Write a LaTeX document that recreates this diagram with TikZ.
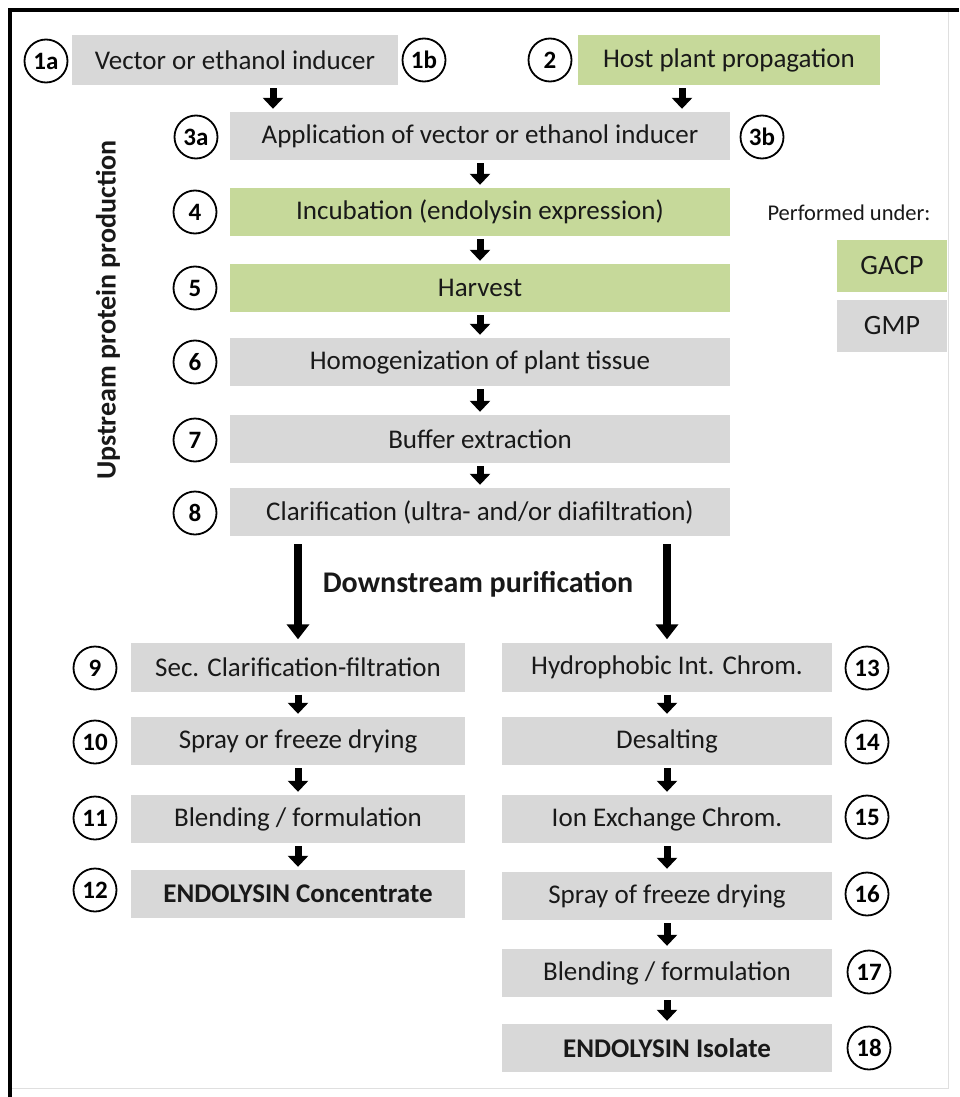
\documentclass[tikz,border=0pt]{standalone}
\usepackage{fontspec}
\setmainfont{Carlito}
\usetikzlibrary{arrows.meta}
\definecolor{gacp}{RGB}{198,217,154}
\definecolor{gmp}{RGB}{216,216,216}
\definecolor{txt}{RGB}{25,25,25}
\begin{document}
\begin{tikzpicture}[x=1pt,y=-1pt,
  box/.style={inner sep=0pt,anchor=center,font=\fontsize{27}{30}\selectfont,text=txt},
  gbox/.style={box,fill=gmp},
  vbox/.style={box,fill=gacp},
  num/.style={circle,draw=black,line width=1.8pt,minimum size=43pt,inner sep=0pt,font=\bfseries\fontsize{25}{27}\selectfont},
  arr/.style={line width=7pt,-{Triangle[width=20pt,length=11pt]},shorten <=3pt,shorten >=3pt},
  bigarr/.style={line width=8pt,-{Triangle[width=22pt,length=15pt]}}]
\useasboundingbox (0,0) rectangle (959,1097);
\fill[white] (0,0) rectangle (959,1097);
% frame
\draw[gray!25,line width=1pt] (948,12) -- (948,1088) -- (10,1088);
\draw[black,line width=4pt] (10,1097) -- (10,10) -- (959,10);

% upstream boxes
\node[gbox,minimum width=326pt,minimum height=50pt] (b1) at (235,60) {Vector or ethanol inducer};
\node[vbox,minimum width=302pt,minimum height=50pt] (b2) at (729,60) {Host plant propagation};
\node[gbox,minimum width=500pt,minimum height=48pt] (b3) at (480,136) {Application of vector or ethanol inducer};
\node[vbox,minimum width=500pt,minimum height=48pt] (b4) at (480,212) {Incubation (endolysin expression)};
\node[vbox,minimum width=500pt,minimum height=48pt] (b5) at (480,288) {Harvest};
\node[gbox,minimum width=500pt,minimum height=48pt] (b6) at (480,362) {Homogenization of plant tissue};
\node[gbox,minimum width=500pt,minimum height=48pt] (b7) at (480,439) {Buffer extraction};
\node[gbox,minimum width=500pt,minimum height=48pt] (b8) at (480,512) {Clarification (ultra- and/or diafiltration)};

% numbers upstream
\node[num] (n1a) at (46,61) {1a};
\node[num] (n1b) at (424,60) {1b};
\node[num] (n2) at (550,60) {2};
\node[num] (n3a) at (196,137) {3a};
\node[num] (n3b) at (762,137) {3b};
\node[num] (n4) at (195,212) {4};
\node[num] (n5) at (195,288) {5};
\node[num] (n6) at (195,362) {6};
\node[num] (n7) at (195,440) {7};
\node[num] (n8) at (195,513) {8};

% side label
\node[rotate=90,font=\bfseries\fontsize{28}{30}\selectfont,text=txt] (up) at (108,310) {Upstream protein production};

% legend
\node[font=\fontsize{22.5}{25}\selectfont,text=txt] (perf) at (849,213) {Performed under:};
\node[vbox,minimum width=110pt,minimum height=52pt,font=\fontsize{28}{30}\selectfont] (lg1) at (892,266) {GACP};
\node[gbox,minimum width=110pt,minimum height=52pt,font=\fontsize{28}{30}\selectfont] (lg2) at (892,326) {GMP};

% downstream
\node[font=\bfseries\fontsize{30}{32}\selectfont,text=txt] (down) at (478,584) {Downstream purification};

\node[gbox,minimum width=334pt,minimum height=49pt] (b9) at (298,667) {Sec. Clarification-filtration};
\node[gbox,minimum width=334pt,minimum height=48pt] (b10) at (298,741) {Spray or freeze drying};
\node[gbox,minimum width=334pt,minimum height=48pt] (b11) at (298,819) {Blending / formulation};
\node[gbox,minimum width=334pt,minimum height=48pt,font=\bfseries\fontsize{27}{30}\selectfont] (b12) at (298,894) {ENDOLYSIN Concentrate};

\node[gbox,minimum width=330pt,minimum height=49pt] (b13) at (667,667) {Hydrophobic Int. Chrom.};
\node[gbox,minimum width=330pt,minimum height=48pt] (b14) at (667,741) {Desalting};
\node[gbox,minimum width=330pt,minimum height=48pt] (b15) at (667,819) {Ion Exchange Chrom.};
\node[gbox,minimum width=330pt,minimum height=48pt] (b16) at (667,896) {Spray of freeze drying};
\node[gbox,minimum width=330pt,minimum height=48pt] (b17) at (667,973) {Blending / formulation};
\node[gbox,minimum width=330pt,minimum height=48pt,font=\bfseries\fontsize{27}{30}\selectfont] (b18) at (667,1048) {ENDOLYSIN Isolate};

\node[num] (n9) at (95,668) {9};
\node[num] (n10) at (95,742) {10};
\node[num] (n11) at (95,818) {11};
\node[num] (n12) at (95,890) {12};
\node[num] (n13) at (867,668) {13};
\node[num] (n14) at (867,742) {14};
\node[num] (n15) at (867,817) {15};
\node[num] (n16) at (867,894) {16};
\node[num] (n17) at (869,972) {17};
\node[num] (n18) at (869,1048) {18};

% arrows
\coordinate (xa) at (273,0);
\coordinate (xb) at (682,0);
\draw[arr] (b1.south -| xa) -- (b3.north -| xa);
\draw[arr] (b2.south -| xb) -- (b3.north -| xb);
\draw[arr] (b3.south) -- (b4.north);
\draw[arr] (b4.south) -- (b5.north);
\draw[arr] (b5.south) -- (b6.north);
\draw[arr] (b6.south) -- (b7.north);
\draw[arr] (b7.south) -- (b8.north);
\draw[bigarr,shorten <=8pt,shorten >=3pt] (b8.south -| b9.north) -- (b9.north);
\draw[bigarr,shorten <=8pt,shorten >=3pt] (b8.south -| b13.north) -- (b13.north);
\draw[arr] (b9.south) -- (b10.north);
\draw[arr] (b10.south) -- (b11.north);
\draw[arr] (b11.south) -- (b12.north);
\draw[arr] (b13.south) -- (b14.north);
\draw[arr] (b14.south) -- (b15.north);
\draw[arr] (b15.south) -- (b16.north);
\draw[arr] (b16.south) -- (b17.north);
\draw[arr] (b17.south) -- (b18.north);
\end{tikzpicture}
\end{document}
